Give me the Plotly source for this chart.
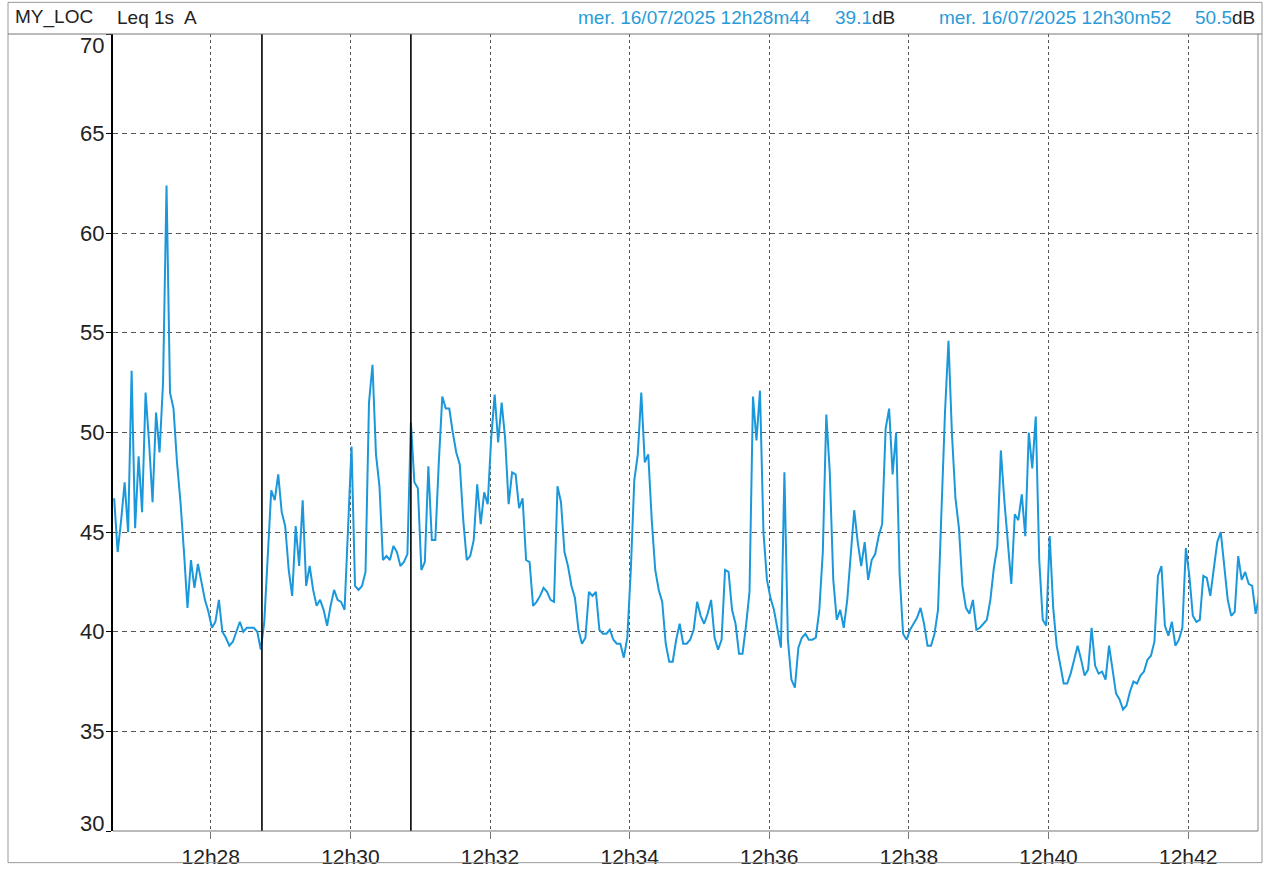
import plotly.graph_objects as go
import pandas as pd

# ---------------- data ----------------
title_parts = ["MY_LOC", "Leq 1s", "A"]
start_time = "2025-07-16 12:26:37"
step_seconds = 3
leq_db = [
    # 12h26m37 ...
    46.7, 44.0, 45.6, 47.5, 45.0, 53.1, 45.2, 48.8, 46.0, 52.0,
    49.5, 46.5, 51.0, 49.0, 52.5, 62.4, 52.0, 51.2, 48.5, 46.5,
    44.0, 41.2, 43.6, 42.2, 43.4, 42.5, 41.6, 41.0, 40.2, 40.5,
    41.6, 40.0, 39.7, 39.3, 39.5, 40.0, 40.5, 40.0, 40.2, 40.2,
    40.2,
    40.0, 39.1, 40.5, 43.6, 47.1, 46.6, 47.9, 46.0, 45.3, 43.1,
    41.8, 45.3, 43.3, 46.6, 42.3, 43.3, 42.1, 41.3, 41.6, 41.1,
    40.3, 41.3, 42.1, 41.6, 41.5, 41.1, 45.5, 49.3, 42.3, 42.1,
    42.3, 43.0, 51.5, 53.4, 48.9, 47.3, 43.6, 43.8, 43.6, 44.3,
    44.0,
    43.3, 43.5, 43.9, 50.5, 47.5, 47.2, 43.1, 43.5, 48.3, 44.6,
    44.6, 48.5, 51.8, 51.2, 51.2, 50.0, 49.0, 48.4, 45.6, 43.6,
    43.8, 44.6, 47.4, 45.4, 47.0, 46.4, 49.7, 51.9, 49.5, 51.5,
    49.7, 46.4, 48.0, 47.9, 46.2, 46.7, 43.6, 43.5, 41.3, 41.5,
    41.8, 42.2,
    42.0, 41.6, 41.5, 47.3, 46.5, 44.0, 43.3, 42.3, 41.7, 40.1,
    39.4, 39.7, 42.0, 41.8, 42.0, 40.1, 39.9, 39.9, 40.1, 39.6,
    39.4, 39.4, 38.7, 39.7, 43.1, 47.6, 48.9, 52.0, 48.5, 48.9,
    45.6, 43.1, 42.1, 41.5, 39.4, 38.5, 38.5, 39.6, 40.4, 39.4,
    39.4, 39.6,
    40.1, 41.5, 40.8, 40.4, 40.9, 41.6, 39.7, 39.1, 39.6, 43.1,
    43.0, 41.1, 40.4, 38.9, 38.9, 40.3, 42.0, 51.8, 49.6, 52.1,
    45.0, 42.6, 41.7, 41.1, 40.2, 39.2, 48.0, 39.6, 37.6, 37.2,
    39.2, 39.7, 39.9, 39.6, 39.6, 39.7, 41.1, 44.0, 50.9, 48.0,
    42.6,
    40.6, 41.1, 40.2, 41.6, 44.1, 46.1, 44.5, 43.3, 44.5, 42.6,
    43.6, 43.9, 44.8, 45.4, 50.2, 51.2, 47.9, 50.0, 42.9, 39.9,
    39.6, 40.1, 40.4, 40.7, 41.2, 40.4, 39.3, 39.3, 39.9, 41.1,
    46.1, 51.0, 54.6, 49.9, 46.7, 45.2, 42.3, 41.2, 40.9, 41.6,
    40.1, 40.2,
    40.4, 40.6, 41.6, 43.2, 44.3, 49.1, 46.6, 44.6, 42.4, 45.9,
    45.6, 46.9, 44.8, 50.0, 48.2, 50.8, 43.6, 40.6, 40.3, 44.8,
    41.2, 39.3, 38.4, 37.4, 37.4, 37.9, 38.6, 39.3, 38.6, 37.8,
    38.1, 40.2, 38.3, 37.9, 38.0, 37.6, 39.3, 38.1, 36.9, 36.6,
    36.1, 36.3,
    37.0, 37.5, 37.4, 37.8, 38.0, 38.6, 38.8, 39.5, 42.8, 43.3,
    40.3, 39.8, 40.5, 39.3, 39.6, 40.2, 44.2, 42.8, 40.8, 40.5,
    40.6, 42.8, 42.7, 41.8, 43.3, 44.5, 45.0, 43.3, 41.6, 40.8,
    41.0, 43.8, 42.6, 43.0, 42.4, 42.3, 40.9, 41.8,
]
x_range = ["2025-07-16 12:26:36", "2025-07-16 12:43:00"]
x_tick_start = "2025-07-16 12:28:00"
y_ticks = [30, 35, 40, 45, 50, 55, 60, 65, 70]
cursor_times = ["2025-07-16 12:28:44", "2025-07-16 12:30:52"]
cursor_labels = ["mer. 16/07/2025 12h28m44", "mer. 16/07/2025 12h30m52"]
cursor_values = ["39.1", "50.5"]
unit = "dB"

# ---------------- layout geometry ----------------
W, H = 1264, 874
L, R, T, B = 113, 6, 34, 34
PW, PH = W - L - R, H - T - B


def px(xp):
    return (xp - L) / PW


def py(yp):
    return (H - B - yp) / PH


BLUE = "#1a98db"
HEADER_BLUE = "#2a9bd8"
FONT = "Liberation Sans, Arial, sans-serif"

times = pd.date_range(start_time, periods=len(leq_db), freq=f"{step_seconds}s")

fig = go.Figure()
fig.add_trace(go.Scatter(x=times, y=leq_db, mode="lines",
                         line=dict(color=BLUE, width=2),
                         hoverinfo="skip", showlegend=False))

shapes = []
# cursor lines
for ct in cursor_times:
    shapes.append(dict(type="line", xref="x", yref="paper", x0=ct, x1=ct,
                       y0=0, y1=1, line=dict(color="black", width=1.6)))
# frame
shapes.append(dict(type="rect", xref="paper", yref="paper",
                   x0=px(8), x1=px(1262), y0=py(872), y1=py(2),
                   line=dict(color="#999", width=1)))
shapes.append(dict(type="line", xref="paper", yref="paper",
                   x0=px(8), x1=px(1262), y0=1, y1=1,
                   line=dict(color="#777", width=1)))
shapes.append(dict(type="line", xref="paper", yref="paper",
                   x0=1, x1=1, y0=0, y1=1, line=dict(color="#888", width=1)))
shapes.append(dict(type="line", xref="paper", yref="paper",
                   x0=0, x1=1, y0=0, y1=0, line=dict(color="#777", width=1)))

annotations = []
# header left
for txt, xp in zip(title_parts, [13, 115, 182]):
    annotations.append(dict(text=txt, xref="paper", yref="paper", x=px(xp), y=py(17),
                            xanchor="left", yanchor="middle", showarrow=False,
                            font=dict(family=FONT, size=19, color="#222")))
# header cursors
for lab, val, xl, xr in zip(cursor_labels, cursor_values, [576, 937], [897, 1257]):
    annotations.append(dict(text=lab, xref="paper", yref="paper", x=px(xl), y=py(17),
                            xanchor="left", yanchor="middle", showarrow=False,
                            font=dict(family=FONT, size=19, color=HEADER_BLUE)))
    annotations.append(dict(text=f"<span style='color:{HEADER_BLUE}'>{val}</span>{unit}",
                            xref="paper", yref="paper", x=px(xr), y=py(17),
                            xanchor="right", yanchor="middle", showarrow=False,
                            font=dict(family=FONT, size=19, color="#222")))
# y tick labels
for v in y_ticks:
    shift = 0
    if v == max(y_ticks):
        shift = -11
    elif v == min(y_ticks):
        shift = 8
    annotations.append(dict(text=str(v), xref="paper", yref="y", x=px(106), y=v,
                            xanchor="right", yanchor="middle", yshift=shift,
                            showarrow=False,
                            font=dict(family=FONT, size=22, color="#222")))

fig.update_layout(
    width=W, height=H, autosize=False,
    margin=dict(l=L, r=R, t=T, b=B, pad=0),
    paper_bgcolor="white", plot_bgcolor="white",
    hovermode=False,
    shapes=shapes, annotations=annotations,
    xaxis=dict(type="date", range=x_range, tick0=x_tick_start, dtick=120000,
               tickformat="%Hh%M", showgrid=True, gridcolor="#555", gridwidth=1,
               griddash="3px,3px", ticks="outside", ticklen=7, tickcolor="#777",
               tickfont=dict(family=FONT, size=21, color="#222"),
               showline=False, zeroline=False, fixedrange=True),
    yaxis=dict(range=[30, 70], tickvals=y_ticks, showticklabels=False,
               ticks="outside", ticklen=5, tickcolor="black",
               showgrid=True, gridcolor="#555", gridwidth=1, griddash="5px,4px",
               showline=True, linecolor="black", linewidth=1.5,
               zeroline=False, fixedrange=True),
)

fig.write_html("out.html", config={"displayModeBar": False},
               post_script="document.body.style.margin='0';document.body.style.overflow='hidden';")
